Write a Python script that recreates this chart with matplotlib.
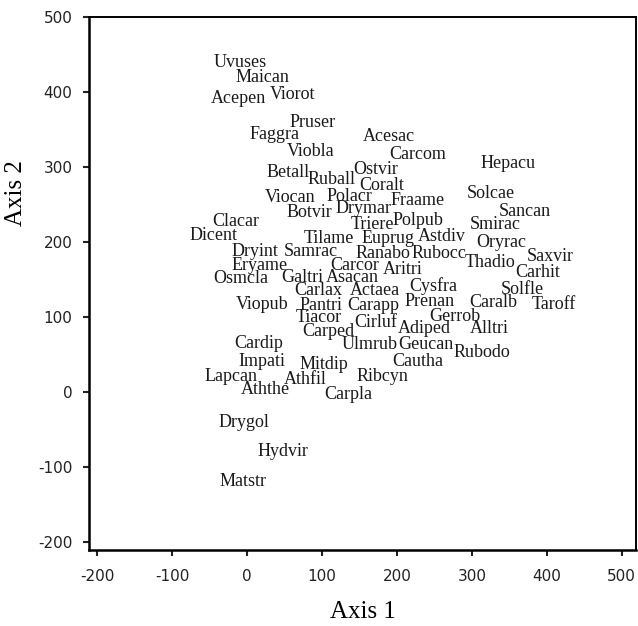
import numpy as np
import matplotlib
matplotlib.use('Agg')
import matplotlib.pyplot as plt

plt.rcParams['axes.unicode_minus'] = False

# species scores on the two ordination axes
species = ['Uvuses', 'Maican', 'Acepen', 'Viorot', 'Pruser', 'Faggra', 'Viobla',
           'Betall', 'Ruball', 'Ostvir', 'Coralt', 'Viocan', 'Polacr', 'Botvir',
           'Drymar', 'Fraame', 'Acesac', 'Carcom', 'Hepacu', 'Solcae', 'Sancan',
           'Clacar', 'Dicent', 'Tilame', 'Triere', 'Polpub', 'Smirac', 'Euprug',
           'Astdiv', 'Oryrac', 'Dryint', 'Samrac', 'Ranabo', 'Rubocc', 'Saxvir',
           'Thadio', 'Carhit', 'Eryame', 'Carcor', 'Aritri', 'Osmcla', 'Galtri',
           'Asacan', 'Carlax', 'Actaea', 'Cysfra', 'Solfle', 'Taroff', 'Caralb',
           'Prenan', 'Carapp', 'Viopub', 'Pantri', 'Tiacor', 'Cirluf', 'Gerrob',
           'Adiped', 'Alltri', 'Carped', 'Ulmrub', 'Geucan', 'Rubodo', 'Cautha',
           'Cardip', 'Impati', 'Mitdip', 'Lapcan', 'Athfil', 'Ribcyn', 'Aththe',
           'Carpla', 'Drygol', 'Hydvir', 'Matstr']

axis1 = [-9, 20, -11, 60, 87, 37, 85,
         55, 113, 172, 179, 57, 136, 83,
         155, 228, 189, 227, 348, 325, 371,
         -15, -45, 109, 167, 228, 331, 188,
         260, 339, 11, 85, 181, 256, 405,
         324, 388, 16, 144, 207, -8, 73,
         140, 95, 171, 249, 367, 409, 328,
         244, 168, 20, 99, 95, 171, 277,
         237, 323, 109, 163, 239, 313, 228,
         16, 20, 103, -21, 77, 180, 25,
         135, -4, 48, -5]

axis2 = [440, 419, 391, 396, 359, 343, 321,
         293, 283, 296, 275, 259, 260, 239,
         245, 255, 340, 316, 305, 265, 240,
         227, 208, 205, 223, 228, 223, 204,
         207, 199, 187, 187, 184, 184, 180,
         172, 159, 168, 168, 163, 151, 152,
         152, 135, 135, 141, 137, 117, 119,
         121, 115, 116, 115, 99, 93, 100,
         85, 85, 80, 63, 63, 53, 41,
         65, 40, 36, 20, 17, 20, 3,
         -4, -41, -80, -119]

fig = plt.figure(figsize=(6.38, 6.26), dpi=100)
ax = fig.add_axes([0.1395, 0.1214, 0.8574, 0.8514])

for name, a1, a2 in zip(species, axis1, axis2):
    ax.text(a1, a2, name, ha='center', va='center', fontsize=13,
            family='Liberation Serif', color='#1a1a1a')

ax.set_xlim(-211, 519)
ax.set_ylim(-211, 500)
ax.set_xticks(np.arange(-200, 501, 100))
ax.set_yticks(np.arange(-200, 501, 100))

for s in ['left', 'bottom']:
    ax.spines[s].set_linewidth(1.8)
for s in ['top', 'right']:
    ax.spines[s].set_linewidth(1.4)

ax.tick_params(axis='both', direction='out', length=4, width=1.5,
               labelsize=11, colors='#222222')
ax.tick_params(axis='x', pad=10)
ax.tick_params(axis='y', pad=8)

ax.set_xlabel('Axis 1', fontsize=18, family='Liberation Serif', labelpad=12)
ax.set_ylabel('Axis 2', fontsize=18, family='Liberation Serif')
ax.yaxis.set_label_coords(-0.113, 0.67)

plt.savefig('out.png', dpi=100)
